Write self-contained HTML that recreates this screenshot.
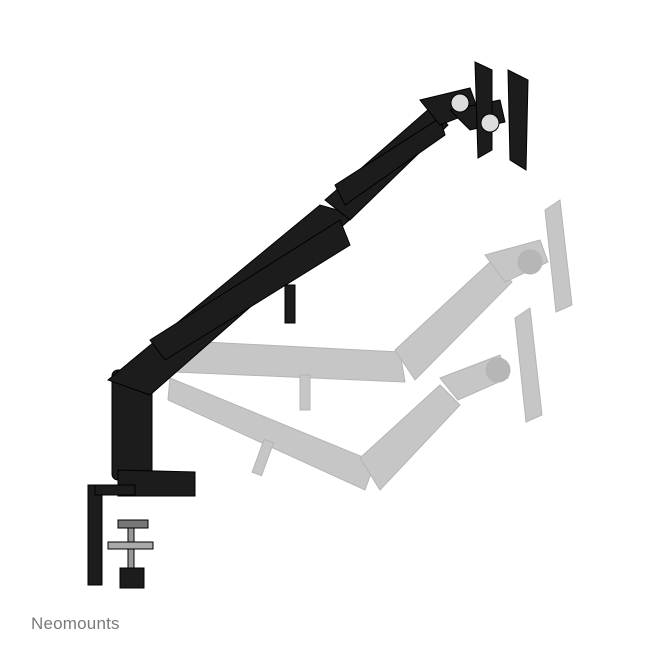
<!DOCTYPE html>
<html><head><meta charset="utf-8"><style>
html,body{margin:0;padding:0;background:#fff;width:662px;height:662px;overflow:hidden}
.logo{position:absolute;left:31px;top:614px;font-family:"Liberation Sans",sans-serif;font-size:17px;color:#7a7a7a;letter-spacing:0.2px}
</style></head><body>
<svg width="662" height="662" viewBox="0 0 662 662" style="position:absolute;left:0;top:0">
<!-- gray ghost arms -->
<g fill="#bdbdbd" stroke="#a8a8a8" stroke-width="1" opacity="0.85">
  <!-- upper ghost -->
  <polygon points="165,340 400,352 405,382 175,372"/>
  <polygon points="395,350 490,262 512,282 415,380"/>
  <polygon points="485,255 540,240 548,262 505,282"/>
  <polygon points="545,210 560,200 572,305 556,312"/>
  <circle cx="530" cy="262" r="12" fill="#aaa"/>
  <rect x="300" y="375" width="10" height="35"/>
  <!-- lower ghost -->
  <polygon points="170,378 375,462 365,490 168,400"/>
  <polygon points="360,458 440,385 460,405 380,490"/>
  <polygon points="440,378 500,355 508,378 458,400"/>
  <polygon points="515,318 530,308 542,415 526,422"/>
  <circle cx="498" cy="370" r="12" fill="#aaa"/>
  <rect x="258" y="440" width="10" height="35" transform="rotate(20 263 457)"/>
</g>
<!-- black arm -->
<g fill="#1c1c1c" stroke="#000" stroke-width="1">
  <rect x="112" y="370" width="40" height="110" rx="6"/>
  <polygon points="118,470 195,472 195,496 118,496"/>
  <polygon points="108,380 320,205 355,215 150,395"/>
  <polygon points="150,340 340,220 350,245 165,360"/>
  <polygon points="325,200 430,108 448,125 350,220"/>
  <polygon points="335,185 440,118 445,135 345,205"/>
  <rect x="285" y="285" width="10" height="38"/>
  <!-- heads -->
  <polygon points="420,100 470,88 478,110 440,125"/>
  <polygon points="450,110 500,100 505,122 470,130"/>
  <polygon points="475,62 492,70 492,150 478,158"/>
  <polygon points="508,70 528,80 526,170 510,160"/>
  <circle cx="460" cy="103" r="9" fill="#ddd"/>
  <circle cx="490" cy="123" r="9" fill="#ddd"/>
  <!-- clamp -->
  <rect x="88" y="485" width="14" height="100"/>
  <rect x="95" y="485" width="40" height="10"/>
  <rect x="118" y="520" width="30" height="8" fill="#777"/>
  <rect x="128" y="528" width="6" height="40" fill="#999"/>
  <rect x="108" y="542" width="45" height="7" fill="#aaa"/>
  <rect x="120" y="568" width="24" height="20"/>
</g>
</svg>
<div class="logo">Neomounts</div>
</body></html>
